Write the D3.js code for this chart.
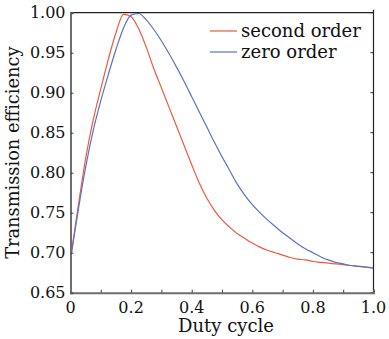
<!DOCTYPE html>
<html>
<head>
<meta charset="utf-8">
<script src="https://cdn.jsdelivr.net/npm/d3@7"></script>
<style>
  html, body { margin: 0; padding: 0; background: #fff; }
  svg { display: block; }
  text { font-family: "DejaVu Serif", serif; fill: #111; }
</style>
</head>
<body>
<svg id="chart" width="389" height="339"></svg>
<script>
// Duty cycle samples (x) shared by both series
const dutyCycle = [
  0.000, 0.025, 0.050, 0.075, 0.100, 0.125, 0.150, 0.175, 0.200, 0.225,
  0.250, 0.275, 0.300, 0.325, 0.350, 0.375, 0.400, 0.425, 0.450, 0.475,
  0.500, 0.525, 0.550, 0.575, 0.600, 0.625, 0.650, 0.675, 0.700, 0.725,
  0.750, 0.775, 0.800, 0.825, 0.850, 0.875, 0.900, 0.925, 0.950, 0.975, 1.000
];

// Transmission efficiency of the second diffraction order
const secondOrder = [
  0.692, 0.757, 0.818, 0.866, 0.905, 0.942, 0.975, 0.998, 0.995, 0.980,
  0.957, 0.930, 0.906, 0.882, 0.858, 0.834, 0.810, 0.787, 0.768, 0.753,
  0.741, 0.732, 0.724, 0.718, 0.712, 0.707, 0.703, 0.700, 0.697, 0.694,
  0.692, 0.691, 0.689, 0.688, 0.687, 0.686, 0.685, 0.684, 0.683, 0.682, 0.681
];

// Transmission efficiency of the zero diffraction order
const zeroOrder = [
  0.692, 0.752, 0.807, 0.853, 0.890, 0.923, 0.954, 0.981, 0.997, 0.999,
  0.991, 0.979, 0.965, 0.949, 0.932, 0.914, 0.895, 0.876, 0.857, 0.838,
  0.820, 0.803, 0.786, 0.772, 0.760, 0.750, 0.741, 0.733, 0.725, 0.718,
  0.711, 0.705, 0.700, 0.695, 0.691, 0.688, 0.686, 0.684, 0.683, 0.682, 0.681
];

const xTickValues = [0, 0.2, 0.4, 0.6, 0.8, 1.0];
const xTickLabels = ["0", "0.2", "0.4", "0.6", "0.8", "1.0"];
const yTickValues = [0.65, 0.70, 0.75, 0.80, 0.85, 0.90, 0.95, 1.00];
const yTickLabels = ["0.65", "0.70", "0.75", "0.80", "0.85", "0.90", "0.95", "1.00"];

const seriesNames = ["second order", "zero order"];
const seriesColors = ["#f2583a", "#5a72c4"];

const svg = d3.select("#chart");
const margin = { left: 70.5, right: 15.5, top: 12.7, bottom: 46.3 };
const W = 389, H = 339;
const x = d3.scaleLinear().domain([0, 1]).range([margin.left, W - margin.right]);
const y = d3.scaleLinear().domain([0.65, 1.0]).range([H - margin.bottom, margin.top]);

const plot = svg.append("g");
svg.append("defs").append("clipPath").attr("id", "plotClip")
  .append("rect")
  .attr("x", x(0)).attr("y", y(1.0) - 1)
  .attr("width", x(1) - x(0)).attr("height", y(0.65) - y(1.0) + 1);

// curves
const line = d3.line()
  .x((d, i) => x(dutyCycle[i]))
  .y(d => y(d))
  .curve(d3.curveMonotoneX);

[secondOrder, zeroOrder].forEach((s, k) => {
  plot.append("path")
    .attr("d", line(s))
    .attr("fill", "none")
    .attr("stroke", seriesColors[k])
    .attr("stroke-width", 1.2)
    .attr("clip-path", "url(#plotClip)");
});

// frame: top and right thin black
svg.append("line")
  .attr("x1", x(0)).attr("x2", x(1)).attr("y1", y(1.0)).attr("y2", y(1.0))
  .attr("stroke", "#222").attr("stroke-width", 1.2);
svg.append("line")
  .attr("x1", x(1)).attr("x2", x(1)).attr("y1", y(1.0) - 3).attr("y2", y(0.65))
  .attr("stroke", "#222").attr("stroke-width", 1.2);

// right-side inward ticks
svg.append("g").selectAll("line").data(yTickValues).join("line")
  .attr("x1", x(1) - 3).attr("x2", x(1))
  .attr("y1", d => y(d)).attr("y2", d => y(d))
  .attr("stroke", "#222").attr("stroke-width", 1);

// bottom axis
const xAxis = d3.axisBottom(x)
  .tickValues(d3.range(0, 1.0001, 0.1))
  .tickSize(-3)
  .tickFormat(() => "");
const gx = svg.append("g").attr("transform", `translate(0,${y(0.65)})`).call(xAxis);
gx.select(".domain").attr("stroke", "#6e6e6e").attr("stroke-width", 2);
gx.selectAll(".tick line").attr("stroke", "#444").attr("stroke-width", 1);
svg.append("g").selectAll("text").data(xTickValues).join("text")
  .attr("x", d => x(d)).attr("y", y(0.65) + 20)
  .attr("text-anchor", "middle")
  .attr("font-size", 16)
  .text((d, i) => xTickLabels[i]);

// left axis
const yAxis = d3.axisLeft(y)
  .tickValues(yTickValues)
  .tickSize(-3)
  .tickFormat(() => "");
const gy = svg.append("g").attr("transform", `translate(${x(0)},0)`).call(yAxis);
gy.select(".domain").attr("stroke", "#6e6e6e").attr("stroke-width", 2);
gy.selectAll(".tick line").attr("stroke", "#444").attr("stroke-width", 1);
svg.append("g").selectAll("text").data(yTickValues).join("text")
  .attr("x", x(0) - 5).attr("y", d => y(d) + 5.5)
  .attr("text-anchor", "end")
  .attr("font-size", 16)
  .text((d, i) => yTickLabels[i]);

// axis titles
svg.append("text")
  .attr("x", (x(0) + x(1)) / 2 + 4).attr("y", 332)
  .attr("text-anchor", "middle")
  .attr("font-size", 18)
  .text("Duty cycle");
svg.append("text")
  .attr("transform", `translate(19,${(y(0.65) + y(1.0)) / 2}) rotate(-90)`)
  .attr("text-anchor", "middle")
  .attr("font-size", 17.8)
  .text("Transmission efficiency");

// legend
const legend = svg.append("g");
seriesNames.forEach((name, k) => {
  const ly = 31 + k * 21;
  legend.append("line")
    .attr("x1", 210).attr("x2", 237).attr("y1", ly).attr("y2", ly)
    .attr("stroke", seriesColors[k]).attr("stroke-width", 1.2);
  legend.append("text")
    .attr("x", 241).attr("y", ly + 6)
    .attr("font-size", 18)
    .text(name);
});
</script>
</body>
</html>
